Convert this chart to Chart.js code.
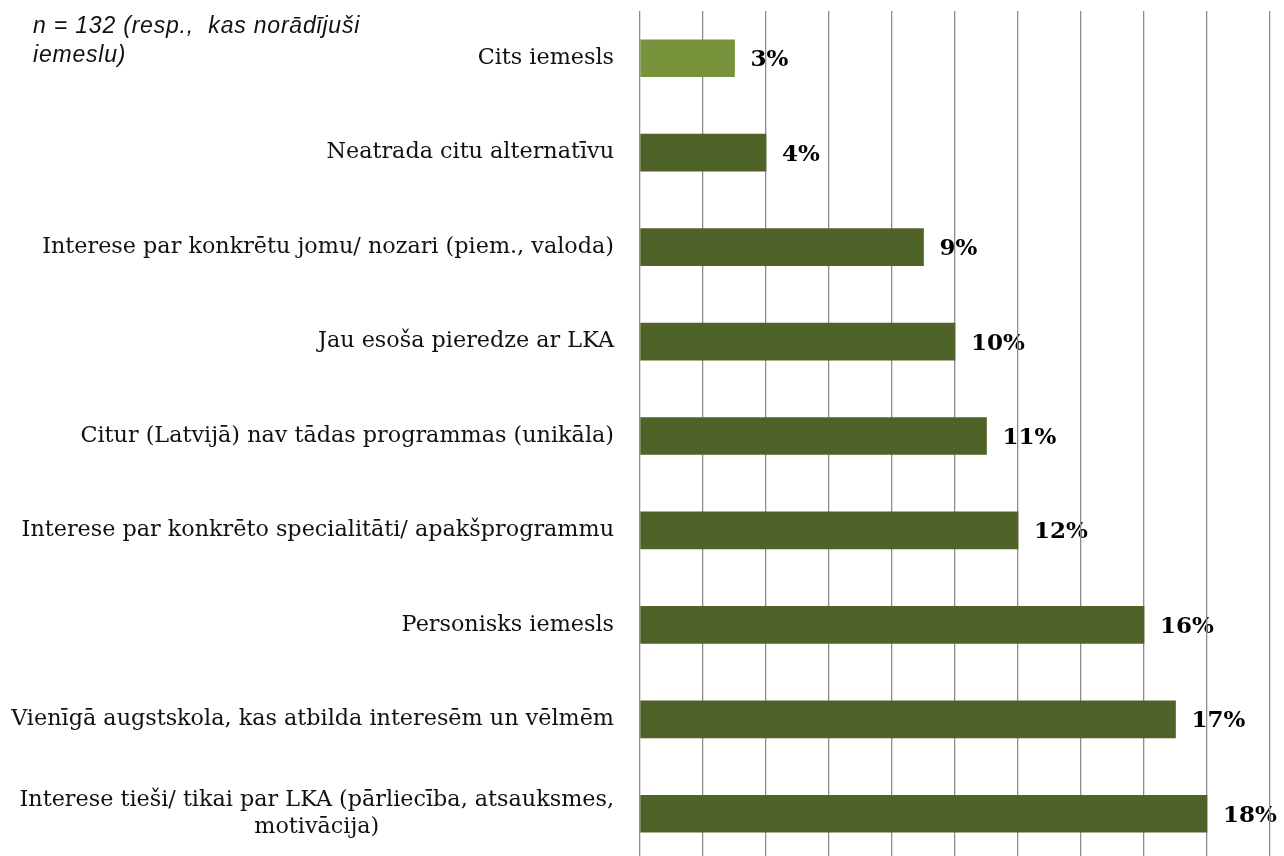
<!DOCTYPE html>
<html>
<head>
<meta charset="utf-8">
<script src="https://cdn.jsdelivr.net/npm/chart.js@4"></script>
<style>
    html, body { margin: 0; padding: 0; background: #fff; overflow: hidden; }
    #wrap { position: relative; width: 1284px; height: 861px; }
    #note {
        position: absolute; left: 33px; top: 11px;
        font: italic 23px "Liberation Sans", Arial, sans-serif;
        letter-spacing: 0.8px;
        line-height: 29px; color: #111; white-space: pre;
    }
</style>
</head>
<body>
<div id="wrap">
    <canvas id="chart" width="1284" height="861"></canvas>
    <div id="note">n = 132 (resp.,  kas norādījuši
iemeslu)</div>
</div>
<script>
    // Data
    const categories = [
        ['Cits iemesls'],
        ['Neatrada citu alternatīvu'],
        ['Interese par konkrētu jomu/ nozari (piem., valoda)'],
        ['Jau esoša pieredze ar LKA'],
        ['Citur (Latvijā) nav tādas programmas (unikāla)'],
        ['Interese par konkrēto specialitāti/ apakšprogrammu'],
        ['Personisks iemesls'],
        ['Vienīgā augstskola, kas atbilda interesēm un vēlmēm'],
        ['Interese tieši/ tikai par LKA (pārliecība, atsauksmes,', 'motivācija)']
    ];
    const values = [3, 4, 9, 10, 11, 12, 16, 17, 18];
    const barColors = ['#77933c', '#4f6228', '#4f6228', '#4f6228', '#4f6228', '#4f6228', '#4f6228', '#4f6228', '#4f6228'];

    const labelFont = '22.3px "DejaVu Serif", serif';
    const valueFont = 'bold 23px "DejaVu Serif", serif';

    // Labels are painted before the grid so the gridlines sit on top, as in the original
    const labelsPlugin = {
        id: 'labels',
        beforeDraw(chart) {
            const ctx = chart.ctx;
            const yScale = chart.scales.y;
            const meta = chart.getDatasetMeta(0);
            ctx.save();

            ctx.font = labelFont;
            ctx.fillStyle = '#111';
            ctx.textBaseline = 'middle';
            ctx.textAlign = 'left';
            categories.forEach((lines, i) => {
                const y = yScale.getPixelForValue(i);
                const right = chart.chartArea.left - 26;
                const widths = lines.map((l) => ctx.measureText(l).width);
                const maxW = Math.max(...widths);
                const lineH = 27;
                const y0 = y - (lines.length - 1) * lineH / 2;
                lines.forEach((l, j) => {
                    const x = right - maxW + (maxW - widths[j]) / 2;
                    ctx.fillText(l, x, y0 + j * lineH);
                });
            });

            ctx.font = valueFont;
            ctx.fillStyle = '#000';
            meta.data.forEach((bar, i) => {
                ctx.fillText(values[i] + '%', bar.x + 16, bar.y + 2);
            });
            ctx.restore();
        }
    };

    new Chart(document.getElementById('chart'), {
        type: 'bar',
        data: {
            labels: categories,
            datasets: [
                {
                    data: values,
                    backgroundColor: barColors,
                    barThickness: 37,
                    borderWidth: 0
                }
            ]
        },
        options: {
            indexAxis: 'y',
            responsive: false,
            animation: false,
            layout: {
                padding: { left: 632, right: 14, top: 11, bottom: 0 }
            },
            plugins: {
                legend: { display: false },
                tooltip: { enabled: false }
            },
            scales: {
                x: {
                    min: 0,
                    max: 20,
                    ticks: { display: false, stepSize: 2 },
                    grid: { color: '#8c8c8c', lineWidth: 1.3, drawTicks: false },
                    border: { display: false }
                },
                y: {
                    ticks: { display: false },
                    grid: { display: false },
                    border: { display: false }
                }
            }
        },
        plugins: [labelsPlugin]
    });
</script>
</body>
</html>
